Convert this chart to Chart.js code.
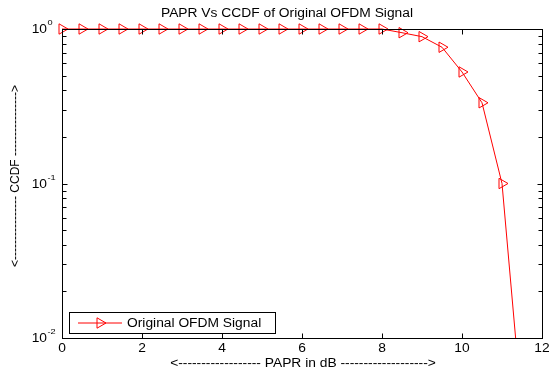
<!DOCTYPE html>
<html>
<head>
<meta charset="utf-8">
<title>PAPR Vs CCDF</title>
<script src="https://cdn.jsdelivr.net/npm/chart.js@4.4.0/dist/chart.umd.min.js"></script>
<style>
    html, body { margin: 0; padding: 0; background: #fff; }
    #wrap { width: 549px; height: 374px; }
</style>
</head>
<body>
<div id="wrap"><canvas id="chart" width="549" height="374"></canvas></div>
<script>
// PAPR values (dB) and the CCDF
const papr = [0, 0.5, 1, 1.5, 2, 2.5, 3, 3.5, 4, 4.5, 5, 5.5, 6, 6.5, 7, 7.5, 8, 8.5, 9, 9.5, 10, 10.5, 11, 11.5];
const ccdf = [1, 1, 1, 1, 1, 1, 1, 1, 1, 1, 1, 1, 1, 1, 1, 1, 1, 0.946, 0.892, 0.762, 0.527, 0.333, 0.1, 0.0034];
const xTicks = [0, 2, 4, 6, 8, 10, 12];
const yDecades = [-2, -1, 0];
const seriesName = 'Original OFDM Signal';
const chartTitle = 'PAPR Vs CCDF of Original OFDM Signal';
const xLabel = '<' + '-'.repeat(18) + ' PAPR in dB ' + '-'.repeat(19) + '>';
const yLabel = '<' + '-'.repeat(16) + ' CCDF ' + '-'.repeat(16) + '>';

const FONT = 'Arial, "Liberation Sans", sans-serif';
const STRETCH = 1.15; // text in the picture is a bit wider than normal

function wideText(ctx, text, x, y, align) {
    ctx.save();
    ctx.translate(x, y);
    ctx.scale(STRETCH, 1);
    ctx.textAlign = align || 'center';
    ctx.textBaseline = 'middle';
    ctx.fillText(text, 0, 0);
    ctx.restore();
}

function drawTriangle(ctx, x, y, r) {
    // right pointing, like the dataset markers
    ctx.beginPath();
    ctx.moveTo(x + r, y);
    ctx.lineTo(x - r / 2, y - r * 0.866);
    ctx.lineTo(x - r / 2, y + r * 0.866);
    ctx.closePath();
    ctx.stroke();
}

// matlab style box, inward ticks and all the texts
const axesPlugin = {
    id: 'axesPlugin',
    afterDatasetsDraw(chart) {
        const ctx = chart.ctx;
        const a = chart.chartArea;
        const xs = chart.scales.x;
        const ys = chart.scales.y;
        const L = Math.round(a.left) + 0.5, R = Math.round(a.right) + 0.5;
        const T = Math.round(a.top) + 0.5, B = Math.round(a.bottom) + 0.5;

        ctx.save();
        ctx.strokeStyle = '#000';
        ctx.lineWidth = 1;
        ctx.strokeRect(L, T, R - L, B - T);

        ctx.beginPath();
        xTicks.forEach(v => {
            const px = Math.round(xs.getPixelForValue(v)) + 0.5;
            ctx.moveTo(px, B); ctx.lineTo(px, B - 5);
            ctx.moveTo(px, T); ctx.lineTo(px, T + 5);
        });
        for (let d = yDecades[0]; d < yDecades[yDecades.length - 1]; d++) {
            for (let m = 1; m <= 9; m++) {
                const len = m === 1 ? 5 : 4;
                const py = Math.round(ys.getPixelForValue(m * Math.pow(10, d))) + 0.5;
                ctx.moveTo(L, py); ctx.lineTo(L + len, py);
                ctx.moveTo(R, py); ctx.lineTo(R - len, py);
            }
        }
        ctx.stroke();

        // legend box
        const lx = 69.5, ly = 312.5, lw = 206, lh = 21;
        ctx.fillStyle = '#fff';
        ctx.fillRect(lx, ly, lw, lh);
        ctx.strokeRect(lx, ly, lw, lh);
        ctx.strokeStyle = '#ff0000';
        ctx.beginPath();
        ctx.moveTo(78, ly + lh / 2); ctx.lineTo(122, ly + lh / 2);
        ctx.stroke();
        drawTriangle(ctx, 100, ly + lh / 2, 6);
        ctx.fillStyle = '#000';
        ctx.font = '12px ' + FONT;
        wideText(ctx, seriesName, 127, ly + lh / 2 + 0.5, 'left');

        // tick labels
        xTicks.forEach(v => {
            wideText(ctx, String(v), xs.getPixelForValue(v), 349);
        });
        yDecades.forEach(d => {
            const py = ys.getPixelForValue(Math.pow(10, d));
            ctx.font = '12px ' + FONT;
            wideText(ctx, '10', 47, py + 1, 'right');
            ctx.font = '8px ' + FONT;
            wideText(ctx, String(d), 47.5, py - 6, 'left');
        });

        // title and axis labels
        ctx.font = '12px ' + FONT;
        wideText(ctx, chartTitle, 287, 14);
        wideText(ctx, xLabel, 303, 364);
        ctx.save();
        ctx.translate(16, 176);
        ctx.rotate(-Math.PI / 2);
        ctx.textAlign = 'center';
        ctx.textBaseline = 'middle';
        ctx.fillText(yLabel, 0, 0);
        ctx.restore();
        ctx.restore();
    }
};

const points = papr.map((x, i) => ({ x: x, y: ccdf[i] }));

new Chart(document.getElementById('chart'), {
    type: 'line',
    data: {
        datasets: [{
            label: seriesName,
            data: points,
            borderColor: '#ff0000',
            borderWidth: 1,
            tension: 0,
            pointStyle: 'triangle',
            rotation: 90,
            pointRadius: 6,
            pointBorderColor: '#ff0000',
            pointBackgroundColor: 'rgba(0,0,0,0)',
            pointBorderWidth: 1,
            clip: { left: 10, top: 10, right: 10, bottom: 0 }
        }]
    },
    options: {
        responsive: false,
        animation: false,
        layout: { padding: { left: 62, top: 29, right: 5, bottom: 36 } },
        plugins: {
            legend: { display: false },
            tooltip: { enabled: false }
        },
        scales: {
            x: { type: 'linear', min: 0, max: 12, display: false },
            y: { type: 'logarithmic', min: 0.01, max: 1, display: false }
        }
    },
    plugins: [axesPlugin]
});
</script>
</body>
</html>
